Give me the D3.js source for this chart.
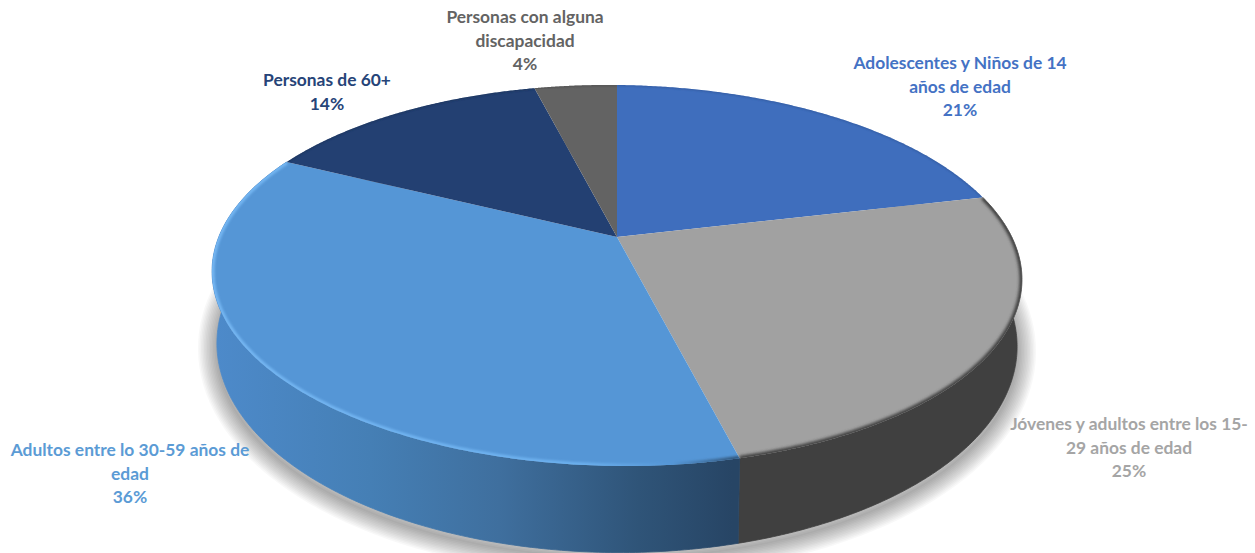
<!DOCTYPE html>
<html lang="es">
<head>
<meta charset="utf-8">
<title>Distribución de la población</title>
<script src="https://d3js.org/d3.v7.min.js"></script>
<style>
  html, body { margin: 0; padding: 0; background: #fff; }
  svg { display: block; }
  text { font-family: Lato, "Open Sans", sans-serif; font-weight: 700; font-size: 17.4px; text-anchor: middle; }
</style>
</head>
<body>
<div id="chart"></div>
<script>
// Population groups, clockwise from twelve o'clock
const categories = [
  "Adolescentes y Niños de 14 años de edad",
  "Jóvenes y adultos entre los 15-29 años de edad",
  "Adultos entre lo 30-59 años de edad",
  "Personas de 60+",
  "Personas con alguna discapacidad"
];
const shares = [21, 25, 36, 14, 4];
const labelLines = [
  ["Adolescentes y Niños de 14", "años de edad"],
  ["Jóvenes y adultos entre los 15-", "29 años de edad"],
  ["Adultos entre lo 30-59 años de", "edad"],
  ["Personas de 60+"],
  ["Personas con alguna", "discapacidad"]
];

// Presentation settings
const topColors = ["#3f6ebd", "#a1a1a1", "#5596d6", "#234072", "#636363"];
const labelColors = ["#4472c4", "#a5a5a5", "#5b9bd5", "#264478", "#636363"];
const labelAnchors = [[960, 69], [1129, 430], [130, 456], [327, 86], [525, 23]];

const width = 1255, height = 553;
const lineHeight = 23.6;

// Disc geometry: a unit circle tilted away from the viewer, rim slightly skewed
const apex = { x: 617, y: 237 };
const tilt = 0.202;
const spreadX = 396.6, spreadY = 182.7;
const skew = 0.01;
// The lower rim sits on the same circle, seen a little larger and further down
const lower = { drop: 66, scaleX: 0.988, scaleY: 1.09, skew: 0.004 };

const svg = d3.select("#chart").append("svg")
  .attr("width", width).attr("height", height)
  .attr("viewBox", [0, 0, width, height]);
const defs = svg.append("defs");

const blur = (id, dev) => defs.append("filter").attr("id", id)
  .attr("x", "-15%").attr("y", "-15%").attr("width", "130%").attr("height", "130%")
  .append("feGaussianBlur").attr("stdDeviation", dev);
blur("rimSoft", 1.8);
blur("rimThin", 1);

const addGradient = (id, x1, x2, stops) => {
  const g = defs.append("linearGradient").attr("id", id)
    .attr("gradientUnits", "userSpaceOnUse")
    .attr("x1", x1).attr("x2", x2).attr("y1", 0).attr("y2", 0);
  stops.forEach(([o, c]) => g.append("stop").attr("offset", o).attr("stop-color", c));
};
addGradient("frontBlue", 215, 732, [[0, "#4d8aca"], [0.3, "#457fb5"], [0.55, "#3f6f9e"], [0.82, "#2f5478"], [1, "#274565"]]);
addGradient("rimBlue", 215, 735, [[0, "#74b6f2"], [0.7, "#6cb0ee"], [0.88, "#5596d6"], [1, "#33597f"]]);

const pie = d3.pie().sort(null).value(d => d);
const arcs = pie(shares);

// Screen position of a rim point at a clockwise angle from the top
const scaleU = d3.scaleLinear().domain([-1, 1]).range([-spreadX, spreadX]);
const scaleV = d3.scaleLinear().domain([-1, 1]).range([spreadY, -spreadY]);
const project = (angle, onLower = false) => {
  const u = Math.sin(angle), v = Math.cos(angle), w = 1 + tilt * v;
  const dx = scaleU(u) * (onLower ? lower.scaleX : 1) / w;
  const dy = scaleV(v) * (onLower ? lower.scaleY : 1) / w;
  return [
    apex.x + dx,
    apex.y + dy + dx * (onLower ? lower.skew : skew) + (onLower ? lower.drop : 0)
  ];
};
const rimAngles = (a, b) => d3.range(0, 181).map(i => a + (b - a) * i / 180);
const line = d3.line();

const rimPath = (d, onLower) => rimAngles(d.startAngle, d.endAngle).map(t => project(t, onLower));
const slicePath = d => line([[apex.x, apex.y], ...rimPath(d, false)]) + "Z";
const sidePath = d => line([...rimPath(d, false), ...rimPath(d, true).reverse()]) + "Z";
const outlinePath = onLower => line(rimAngles(0, 2 * Math.PI).map(t => project(t, onLower))) + "Z";

// Soft drop shadow under the solid: nested strokes fading outwards
svg.append("g").attr("transform", "translate(0,5)")
  .selectAll("path")
  .data(d3.range(2, 40, 3))
  .join("path")
  .attr("d", outlinePath(true))
  .attr("fill", "none")
  .attr("stroke", "#000")
  .attr("stroke-opacity", 0.028)
  .attr("stroke-width", d => d);

// Visible side wall, only the two front slices reach it; the stroke closes the seam between them
const sideFill = ["none", "#404040", "url(#frontBlue)", "none", "none"];
svg.append("g").selectAll("path")
  .data(arcs.filter((d, i) => sideFill[i] !== "none"))
  .join("path")
  .attr("d", sidePath)
  .attr("fill", d => sideFill[d.index])
  .attr("stroke", d => sideFill[d.index])
  .attr("stroke-width", 0.8);

// Top face
svg.append("g").selectAll("path")
  .data(arcs)
  .join("path")
  .attr("d", slicePath)
  .attr("fill", d => topColors[d.index]);

// Bevel along the rim, clipped to each slice
arcs.forEach(d => {
  defs.append("clipPath").attr("id", `slice${d.index}`)
    .append("path").attr("d", slicePath(d));
});
const rimStroke = ["#2f5597", "#404040", "url(#rimBlue)", "#1c3156", "#4a4a4a"];
const rimWidth = [1.5, 5, 5, 1.5, 1.5];
const rimFilter = ["rimThin", "rimSoft", "rimThin", "rimThin", "rimThin"];
svg.append("g").selectAll("g")
  .data(arcs)
  .join("g")
  .attr("clip-path", d => `url(#slice${d.index})`)
  .append("path")
  .attr("d", d => line(rimPath(d, false)))
  .attr("fill", "none")
  .attr("stroke", d => rimStroke[d.index])
  .attr("stroke-width", d => rimWidth[d.index])
  .attr("filter", d => `url(#${rimFilter[d.index]})`);

// Data labels: category lines followed by the share
const labels = svg.append("g").selectAll("text")
  .data(arcs)
  .join("text")
  .attr("fill", d => labelColors[d.index])
  .attr("transform", d => `translate(${labelAnchors[d.index]})`);
labels.selectAll("tspan")
  .data(d => [...labelLines[d.index], `${d.data}%`])
  .join("tspan")
  .attr("x", 0)
  .attr("y", (d, i) => i * lineHeight)
  .text(d => d);
</script>
</body>
</html>
